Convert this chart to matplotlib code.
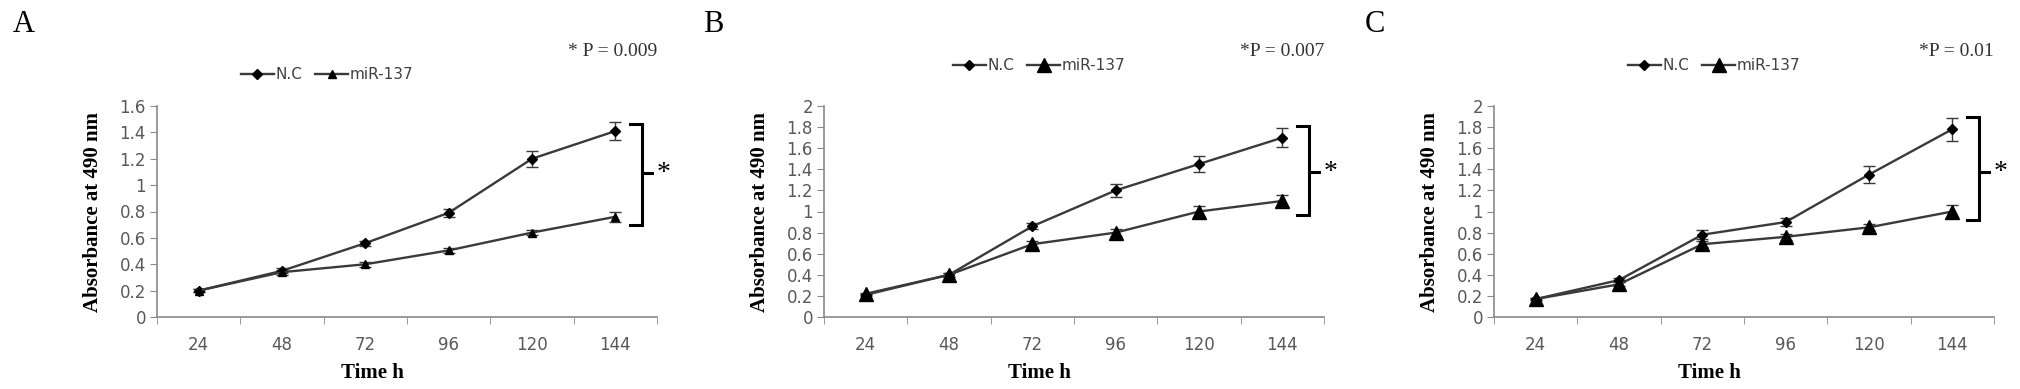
import numpy as np
import matplotlib
matplotlib.use("Agg")
import matplotlib.pyplot as plt
from matplotlib.lines import Line2D

hours = ["24", "48", "72", "96", "120", "144"]

# panel A
nc_a = [0.20, 0.35, 0.56, 0.79, 1.20, 1.41]
nc_a_err = [0.01, 0.02, 0.02, 0.03, 0.06, 0.07]
mir_a = [0.20, 0.34, 0.40, 0.505, 0.64, 0.76]
mir_a_err = [0.01, 0.02, 0.02, 0.02, 0.02, 0.04]

# panel B
nc_b = [0.21, 0.40, 0.86, 1.20, 1.45, 1.70]
nc_b_err = [0.01, 0.02, 0.03, 0.06, 0.08, 0.09]
mir_b = [0.22, 0.40, 0.69, 0.80, 1.00, 1.10]
mir_b_err = [0.01, 0.02, 0.03, 0.03, 0.05, 0.06]

# panel C
nc_c = [0.17, 0.35, 0.78, 0.90, 1.35, 1.78]
nc_c_err = [0.01, 0.02, 0.04, 0.04, 0.08, 0.11]
mir_c = [0.17, 0.31, 0.69, 0.76, 0.85, 1.00]
mir_c_err = [0.01, 0.02, 0.03, 0.03, 0.03, 0.06]

p_texts = ["* P = 0.009", "*P = 0.007", "*P = 0.01"]
letters = ["A", "B", "C"]
ymax = [1.6, 2.0, 2.0]
# bracket (bottom, top, middle) in data units
brackets = [(0.70, 1.46, 1.09), (0.97, 1.81, 1.37), (0.92, 1.90, 1.37)]

W, H = 2020, 389
fig = plt.figure(figsize=(W / 100, H / 100), dpi=100)

serif = "Liberation Serif"
tickfont = ["Liberation Sans Narrow", "DejaVu Sans"]
line_col = "#3a3a3a"
axis_col = "#8a8a8a"
tick_col = "#595959"

lefts = [157, 824, 1494]
letter_x = [13, 703, 1365]
leg_x = [0.34, 0.43, 0.44]
leg_y = [1.15, 1.19, 1.19]
tri_size = [6, 10, 10]

panels = [(nc_a, nc_a_err, mir_a, mir_a_err),
          (nc_b, nc_b_err, mir_b, mir_b_err),
          (nc_c, nc_c_err, mir_c, mir_c_err)]

x = np.arange(len(hours))

for i, (nc, nce, mir, mire) in enumerate(panels):
    ax = fig.add_axes([lefts[i] / W, (H - 317) / H, 500 / W, 211 / H])

    ax.errorbar(x, nc, yerr=nce, color=line_col, lw=1.7, marker="D",
                ms=5, mfc="black", mec="black", ecolor=line_col,
                elinewidth=1, capsize=4.5, capthick=1, zorder=3)
    ax.errorbar(x, mir, yerr=mire, color=line_col, lw=1.7, marker="^",
                ms=tri_size[i], mfc="black", mec="black", ecolor=line_col,
                elinewidth=1, capsize=4.5, capthick=1, zorder=3)

    ax.set_xlim(-0.5, 5.5)
    ax.set_ylim(0, ymax[i])
    ax.set_yticks(np.arange(0, ymax[i] + 0.01, 0.2))
    ax.set_yticklabels(["0"] + ["%g" % v for v in np.arange(0.2, ymax[i] + 0.01, 0.2)])
    ax.set_xticks(x)
    ax.set_xticklabels(hours)
    ax.set_xticks(np.arange(-0.5, 6, 1), minor=True)
    ax.tick_params(axis="x", which="major", length=0, pad=14)
    ax.tick_params(axis="x", which="minor", length=5, color=axis_col, direction="out")
    ax.tick_params(axis="y", length=5, color=axis_col, direction="out", pad=3)
    for lab in ax.get_xticklabels() + ax.get_yticklabels():
        lab.set_family(tickfont)
        lab.set_fontsize(12)
        lab.set_color(tick_col)

    for s in ["top", "right"]:
        ax.spines[s].set_visible(False)
    for s in ["left", "bottom"]:
        ax.spines[s].set_color(axis_col)
        ax.spines[s].set_linewidth(1.2)

    ax.set_ylabel("Absorbance at 490 nm", family=serif, weight="bold",
                  fontsize=15, labelpad=12)
    ax.set_xlabel("Time h", family=serif, weight="bold", fontsize=15, labelpad=4)
    ax.xaxis.set_label_coords(0.43, -0.22)

    # significance bracket
    lo, hi, mid = brackets[i]
    bx = 5.32
    ax.plot([5.18, bx, bx, 5.18], [hi, hi, lo, lo], color="black", lw=2.2,
            clip_on=False, solid_joinstyle="miter")
    ax.plot([bx, 5.44], [mid, mid], color="black", lw=2.2, clip_on=False)
    ax.text(5.58, mid, "*", family=serif, fontsize=20, ha="center",
            va="center", clip_on=False)

    ax.text(1.0, 1.26, p_texts[i], transform=ax.transAxes, family=serif,
            fontsize=14, ha="right", va="center", color="#333333")
    fig.text(letter_x[i] / W, 1 - 10 / H, letters[i], family=serif,
             fontsize=22, ha="left", va="top")

    handles = [Line2D([], [], color=line_col, lw=1.7, marker="D", ms=5,
                      mfc="black", mec="black"),
               Line2D([], [], color=line_col, lw=1.7, marker="^",
                      ms=tri_size[i], mfc="black", mec="black")]
    leg = ax.legend(handles, ["N.C", "miR-137"], loc="center",
                    bbox_to_anchor=(leg_x[i], leg_y[i]), ncol=2, frameon=False,
                    handlelength=2.2, handletextpad=0.1, columnspacing=0.8,
                    prop={"family": tickfont, "size": 11})
    for t in leg.get_texts():
        t.set_color("#404040")

fig.savefig("out.png", dpi=100)
